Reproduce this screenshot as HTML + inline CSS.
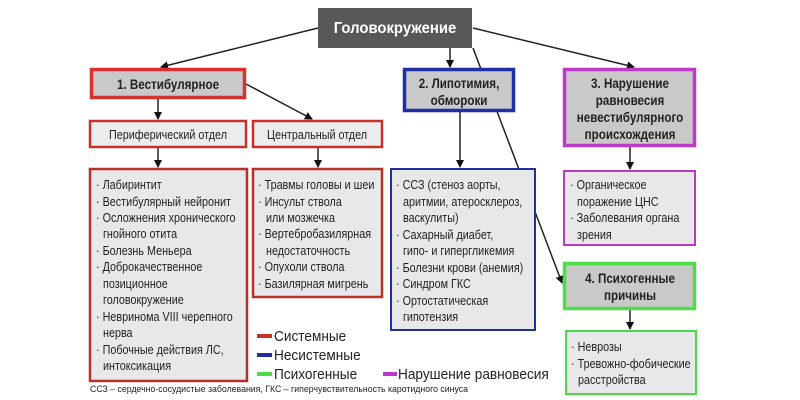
<!DOCTYPE html>
<html><head><meta charset="utf-8"><style>
html,body{margin:0;padding:0;background:#fff;}
svg{display:block}
text{font-family:"Liberation Sans",sans-serif;fill:#222;}
.b{font-weight:bold;}
</style></head><body>
<svg width="800" height="400" viewBox="0 0 800 400" xmlns="http://www.w3.org/2000/svg">
<defs>
<marker id="a" markerWidth="8" markerHeight="8" refX="7" refY="4" orient="auto" markerUnits="userSpaceOnUse"><path d="M0,0 L8,4 L0,8 z" fill="#111"/></marker>
</defs>
<g stroke="#222" stroke-width="1.5" fill="none">
<line x1="318" y1="28" x2="161" y2="67" marker-end="url(#a)"/>
<line x1="450" y1="48" x2="450" y2="67" marker-end="url(#a)"/>
<line x1="473" y1="28" x2="634" y2="67" marker-end="url(#a)"/>
<line x1="473" y1="48" x2="562" y2="283" marker-end="url(#a)"/>
<line x1="158" y1="99" x2="158" y2="119" marker-end="url(#a)"/>
<line x1="246" y1="84" x2="312" y2="119" marker-end="url(#a)"/>
<line x1="158" y1="147" x2="158" y2="167" marker-end="url(#a)"/>
<line x1="318" y1="147" x2="318" y2="167" marker-end="url(#a)"/>
<line x1="460" y1="112" x2="460" y2="167" marker-end="url(#a)"/>
<line x1="630" y1="147" x2="630" y2="169" marker-end="url(#a)"/>
<line x1="630" y1="310" x2="630" y2="329" marker-end="url(#a)"/>
</g>
<rect x="318" y="8" width="154" height="40" fill="#585858"/>
<text transform="translate(395 33) scale(.93 1)" text-anchor="middle" font-size="16" class="b" style="fill:#fff">Головокружение</text>

<rect x="91.5" y="69.5" width="153" height="28" fill="#c9c9c9" stroke="#d8322c" stroke-width="3.5"/>
<text transform="translate(168 89) scale(.83 1)" text-anchor="middle" font-size="14" class="b">1. Вестибулярное</text>
<rect x="404.5" y="69.5" width="109" height="41" fill="#c9c9c9" stroke="#1f2fa8" stroke-width="3.5"/>
<text transform="translate(459 88) scale(.83 1)" text-anchor="middle" font-size="14" class="b">2. Липотимия,</text>
<text transform="translate(459 105) scale(.83 1)" text-anchor="middle" font-size="14" class="b">обмороки</text>
<rect x="564.5" y="69.5" width="130" height="76" fill="#c9c9c9" stroke="#c03ac8" stroke-width="3.5"/>
<text transform="translate(630 88) scale(.83 1)" text-anchor="middle" font-size="14" class="b">3. Нарушение</text>
<text transform="translate(630 105) scale(.83 1)" text-anchor="middle" font-size="14" class="b">равновесия</text>
<text transform="translate(630 122) scale(.83 1)" text-anchor="middle" font-size="14" class="b">невестибулярного</text>
<text transform="translate(630 139) scale(.83 1)" text-anchor="middle" font-size="14" class="b">происхождения</text>
<rect x="564.5" y="263.5" width="130" height="45" fill="#c9c9c9" stroke="#4ce046" stroke-width="3.5"/>
<text transform="translate(630 283) scale(.83 1)" text-anchor="middle" font-size="14" class="b">4. Психогенные</text>
<text transform="translate(630 300) scale(.83 1)" text-anchor="middle" font-size="14" class="b">причины</text>

<rect x="90" y="121" width="156" height="26" fill="#ececec" stroke="#c9302c" stroke-width="2.5"/>
<text transform="translate(168 139) scale(.83 1)" text-anchor="middle" font-size="13">Периферический отдел</text>
<rect x="253" y="121" width="129" height="26" fill="#ececec" stroke="#c9302c" stroke-width="2.5"/>
<text transform="translate(317 139) scale(.83 1)" text-anchor="middle" font-size="13">Центральный отдел</text>

<rect x="90" y="169" width="157" height="212" fill="#e8e8ea" stroke="#b8302c" stroke-width="2.5"/>
<g font-size="13">
<text transform="translate(96 189) scale(.83 1)">· Лабиринтит</text>
<text transform="translate(96 206) scale(.83 1)">· Вестибулярный нейронит</text>
<text transform="translate(96 222) scale(.83 1)">· Осложнения хронического</text>
<text transform="translate(103 238) scale(.83 1)">гнойного отита</text>
<text transform="translate(96 255) scale(.83 1)">· Болезнь Меньера</text>
<text transform="translate(96 271) scale(.83 1)">· Доброкачественное</text>
<text transform="translate(103 288) scale(.83 1)">позиционное</text>
<text transform="translate(103 304) scale(.83 1)">головокружение</text>
<text transform="translate(96 321) scale(.83 1)">· Невринома VIII черепного</text>
<text transform="translate(103 337) scale(.83 1)">нерва</text>
<text transform="translate(96 354) scale(.83 1)">· Побочные действия ЛС,</text>
<text transform="translate(103 370) scale(.83 1)">интоксикация</text>
</g>
<rect x="253" y="169" width="129" height="128" fill="#e8e8ea" stroke="#b8302c" stroke-width="2.5"/>
<g font-size="13">
<text transform="translate(258 189) scale(.83 1)">· Травмы головы и шеи</text>
<text transform="translate(258 206) scale(.83 1)">· Инсульт ствола</text>
<text transform="translate(266 222) scale(.83 1)">или мозжечка</text>
<text transform="translate(258 238) scale(.83 1)">· Вертебробазилярная</text>
<text transform="translate(266 255) scale(.83 1)">недостаточность</text>
<text transform="translate(258 271) scale(.83 1)">· Опухоли ствола</text>
<text transform="translate(258 288) scale(.83 1)">· Базилярная мигрень</text>
</g>
<rect x="391" y="169" width="144" height="161" fill="#e8e8ea" stroke="#1f2fa0" stroke-width="2"/>
<g font-size="13">
<text transform="translate(396 189) scale(.83 1)">· ССЗ (стеноз аорты,</text>
<text transform="translate(403 206) scale(.83 1)">аритмии, атеросклероз,</text>
<text transform="translate(403 222) scale(.83 1)">васкулиты)</text>
<text transform="translate(396 239) scale(.83 1)">· Сахарный диабет,</text>
<text transform="translate(403 255) scale(.83 1)">гипо- и гипергликемия</text>
<text transform="translate(396 272) scale(.83 1)">· Болезни крови (анемия)</text>
<text transform="translate(396 288) scale(.83 1)">· Синдром ГКС</text>
<text transform="translate(396 305) scale(.83 1)">· Ортостатическая</text>
<text transform="translate(403 321) scale(.83 1)">гипотензия</text>
</g>
<rect x="564" y="171" width="131" height="74" fill="#e8e8ea" stroke="#b83ac0" stroke-width="2"/>
<g font-size="13">
<text transform="translate(570 189) scale(.83 1)">· Органическое</text>
<text transform="translate(577 206) scale(.83 1)">поражение ЦНС</text>
<text transform="translate(570 222) scale(.83 1)">· Заболевания органа</text>
<text transform="translate(577 239) scale(.83 1)">зрения</text>
</g>
<rect x="566" y="331" width="130" height="63" fill="#e8e8ea" stroke="#4cd846" stroke-width="2"/>
<g font-size="13">
<text transform="translate(571 351) scale(.83 1)">· Неврозы</text>
<text transform="translate(571 368) scale(.83 1)">· Тревожно-фобические</text>
<text transform="translate(578 384) scale(.83 1)">расстройства</text>
</g>
<g stroke-width="4">
<line x1="257" y1="336" x2="272" y2="336" stroke="#c8302c"/>
<line x1="257" y1="355" x2="272" y2="355" stroke="#1f2fa0"/>
<line x1="257" y1="374" x2="272" y2="374" stroke="#4ce046"/>
<line x1="383" y1="374" x2="397" y2="374" stroke="#b83ac8"/>
</g>
<g font-size="15">
<text transform="translate(274 341) scale(.91 1)">Системные</text>
<text transform="translate(274 360) scale(.91 1)">Несистемные</text>
<text transform="translate(274 379) scale(.91 1)">Психогенные</text>
<text transform="translate(398 379) scale(.91 1)">Нарушение равновесия</text>
</g>
<text x="90" y="392" font-size="9.5" textLength="378" lengthAdjust="spacingAndGlyphs">ССЗ – сердечно-сосудистые заболевания, ГКС – гиперчувствительность каротидного синуса</text>
</svg>
</body></html>
